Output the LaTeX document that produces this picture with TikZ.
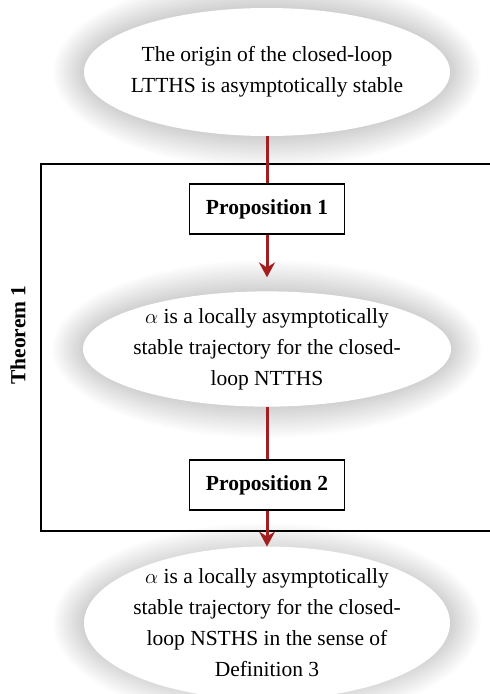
\documentclass[tikz,border=0pt]{standalone}
\usepackage{fontspec}
\setmainfont{Liberation Serif}
\usetikzlibrary{arrows.meta,shapes.geometric}
\definecolor{arrowred}{RGB}{163,30,30}
\begin{document}
\begin{tikzpicture}[x=1pt,y=-1pt,
  txt/.style={font=\fontsize{21.5}{31}\selectfont, align=center},
  bubble/.style={ellipse, fill=white, inner xsep=-7pt, inner ysep=0pt, outer sep=0pt, txt},
  propbox/.style={draw=black, line width=1.8pt, fill=white, minimum width=155pt, minimum height=50pt, inner sep=0pt, font=\fontsize{21.5}{31}\selectfont\bfseries},
  frame/.style={line width=1.8pt},
  link/.style={draw=arrowred, line width=3pt},
  tip/.style={-{Stealth[length=15pt,width=16pt,inset=5pt]}},
  glowring/.style={fill=black, opacity=0.0075}
]
\useasboundingbox (0,0) rectangle (490,694);
% glows
\foreach \i in {0,...,23}{
  \fill[glowring] (267,72) ellipse [x radius={183+1.35*\i}, y radius={64+1.4*\i}];
  \fill[glowring] (267,349) ellipse [x radius={184+1.35*\i}, y radius={57+1.4*\i}];
  \fill[glowring] (267,623) ellipse [x radius={183+1.35*\i}, y radius={68+1.4*\i}];
}
% theorem frame
\draw[frame] (500,164) -- (41,164) -- (41,531) -- (500,531);
\node[rotate=90, font=\fontsize{21.5}{31}\selectfont\bfseries] (th) at (18,335) {Theorem 1};
% ellipses
\node[bubble, minimum width=366pt, minimum height=128pt] (e1) at (267,72)
  {The origin of the closed-loop\\LTTHS is asymptotically stable};
\node[bubble, minimum width=368pt, minimum height=114pt] (e2) at (267,349)
  {$\alpha$ is a locally asymptotically\\stable trajectory for the closed-\\loop NTTHS};
\node[bubble, minimum width=366pt, minimum height=136pt] (e3) at (267,623)
  {$\alpha$ is a locally asymptotically\\stable trajectory for the closed-\\loop NSTHS in the sense of\\Definition 3};
% proposition boxes
\node[propbox] (p1) at (267,209) {Proposition 1};
\node[propbox] (p2) at (267,485) {Proposition 2};
% connectors
\draw[link] (e1) -- (p1);
\draw[link, tip, shorten >=14pt] (p1) -- (e2);
\draw[link] (e2) -- (p2);
\draw[link, tip] (p2) -- (e3);
\end{tikzpicture}
\end{document}
